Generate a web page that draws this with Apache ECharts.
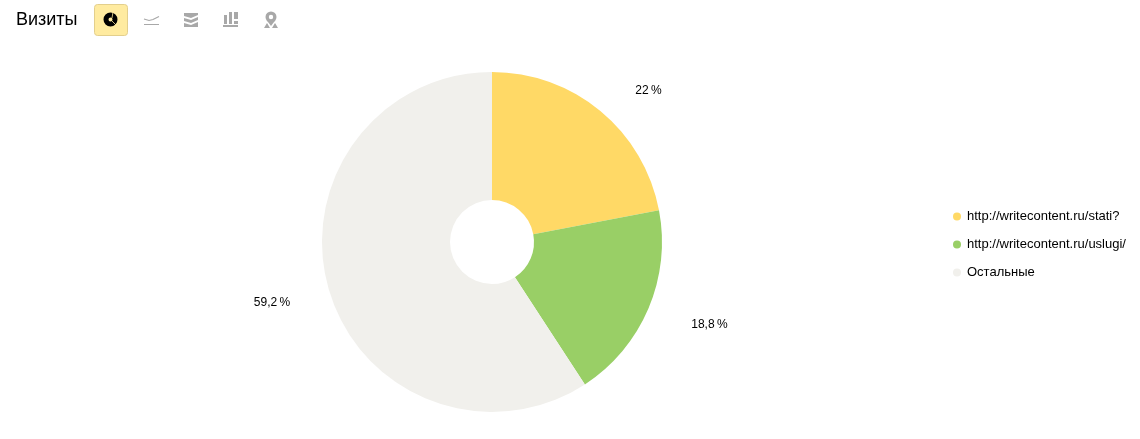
<!DOCTYPE html>
<html>
<head>
<meta charset="utf-8">
<style>
  html, body { margin: 0; padding: 0; background: #fff; }
  #chart { width: 1140px; height: 439px; }
</style>
<script src="https://cdn.jsdelivr.net/npm/echarts@6/dist/echarts.min.js"></script>
</head>
<body>
<div id="chart"></div>
<script>
const categories = ['http://writecontent.ru/stati?', 'http://writecontent.ru/uslugi/', 'Остальные'];
const shares = [22, 18.8, 59.2];
const shareLabels = ['22\u2009%', '18,8\u2009%', '59,2\u2009%'];
const colors = ['#ffd966', '#99cf66', '#f1f0ec'];

const FONT = '"Liberation Sans", Arial, sans-serif';
const grey = '#a8a8a8';
const btn = '#ffeba0';

// toolbar icons next to the title
const toolbar = [
  { type: 'rect', shape: { x: 94.5, y: 4.5, width: 33, height: 31, r: 3 }, style: { fill: btn, stroke: '#e3cf8c', lineWidth: 1 } },
  { type: 'ring', shape: { cx: 110.5, cy: 19.5, r: 7, r0: 2 }, style: { fill: '#000' } },
  { type: 'line', shape: { x1: 112, y1: 18, x2: 113, y2: 12 }, style: { stroke: btn, lineWidth: 0.8 } },
  { type: 'line', shape: { x1: 112, y1: 21, x2: 116, y2: 25 }, style: { stroke: btn, lineWidth: 0.8 } },
  { type: 'polyline', shape: { points: [[144, 19], [149, 20.5], [153, 19.5], [159, 16.5]] }, style: { stroke: grey, fill: null, lineWidth: 1.2 } },
  { type: 'rect', shape: { x: 144, y: 24, width: 15, height: 1 }, style: { fill: grey } },
  { type: 'polygon', shape: { points: [[184, 13], [198, 13], [198, 15], [191, 18], [184, 16]] }, style: { fill: grey } },
  { type: 'polygon', shape: { points: [[184, 18], [191, 20], [198, 17], [198, 20], [191, 23], [184, 21]] }, style: { fill: grey } },
  { type: 'polygon', shape: { points: [[184, 23], [191, 25], [198, 22], [198, 27], [184, 27]] }, style: { fill: grey } },
  { type: 'rect', shape: { x: 224, y: 15, width: 3, height: 9 }, style: { fill: grey } },
  { type: 'rect', shape: { x: 229, y: 12, width: 3, height: 12 }, style: { fill: grey } },
  { type: 'rect', shape: { x: 234, y: 12, width: 4, height: 7 }, style: { fill: grey } },
  { type: 'rect', shape: { x: 234, y: 21, width: 4, height: 3 }, style: { fill: grey } },
  { type: 'rect', shape: { x: 223, y: 25, width: 15, height: 2 }, style: { fill: grey } },
  { type: 'ring', shape: { cx: 271, cy: 17, r: 5.5, r0: 2.2 }, style: { fill: grey } },
  { type: 'polygon', shape: { points: [[266.5, 20], [275.5, 20], [271, 26]] }, style: { fill: grey } },
  { type: 'polygon', shape: { points: [[264, 28], [267, 23], [270, 28]] }, style: { fill: grey } },
  { type: 'polygon', shape: { points: [[272, 28], [275, 23], [278, 28]] }, style: { fill: grey } },
];

// nudges so the outside labels land where the reference has them
const labelNudge = [[0, 1.5], [0, 5], [5, 4]];

const chart = echarts.init(document.getElementById('chart'), null, { renderer: 'canvas' });
chart.setOption({
  animation: false,
  backgroundColor: '#fff',
  textStyle: { fontFamily: FONT },
  title: {
    text: 'Визиты',
    left: 16,
    top: 11,
    padding: 0,
    textStyle: { fontSize: 18, fontWeight: 'normal', color: '#000', fontFamily: FONT },
  },
  legend: {
    orient: 'vertical',
    left: 953,
    top: 210,
    padding: 0,
    icon: 'circle',
    itemWidth: 8,
    itemHeight: 8,
    itemGap: 15,
    selectedMode: false,
    data: categories,
    textStyle: { fontSize: 13, color: '#000', fontFamily: FONT, padding: [0, 0, 0, 1] },
  },
  graphic: toolbar,
  series: [
    {
      type: 'pie',
      center: [492, 242],
      radius: [42, 170],
      startAngle: 90,
      clockwise: true,
      silent: true,
      color: colors,
      data: categories.map((name, i) => ({ name, value: shares[i] })),
      label: {
        position: 'outside',
        fontSize: 12,
        color: '#000',
        fontFamily: FONT,
        formatter: p => shareLabels[p.dataIndex],
      },
      labelLine: { show: false, length: 28, length2: 12 },
      labelLayout: p => ({ dx: labelNudge[p.dataIndex][0], dy: labelNudge[p.dataIndex][1] }),
    },
  ],
});
</script>
</body>
</html>
